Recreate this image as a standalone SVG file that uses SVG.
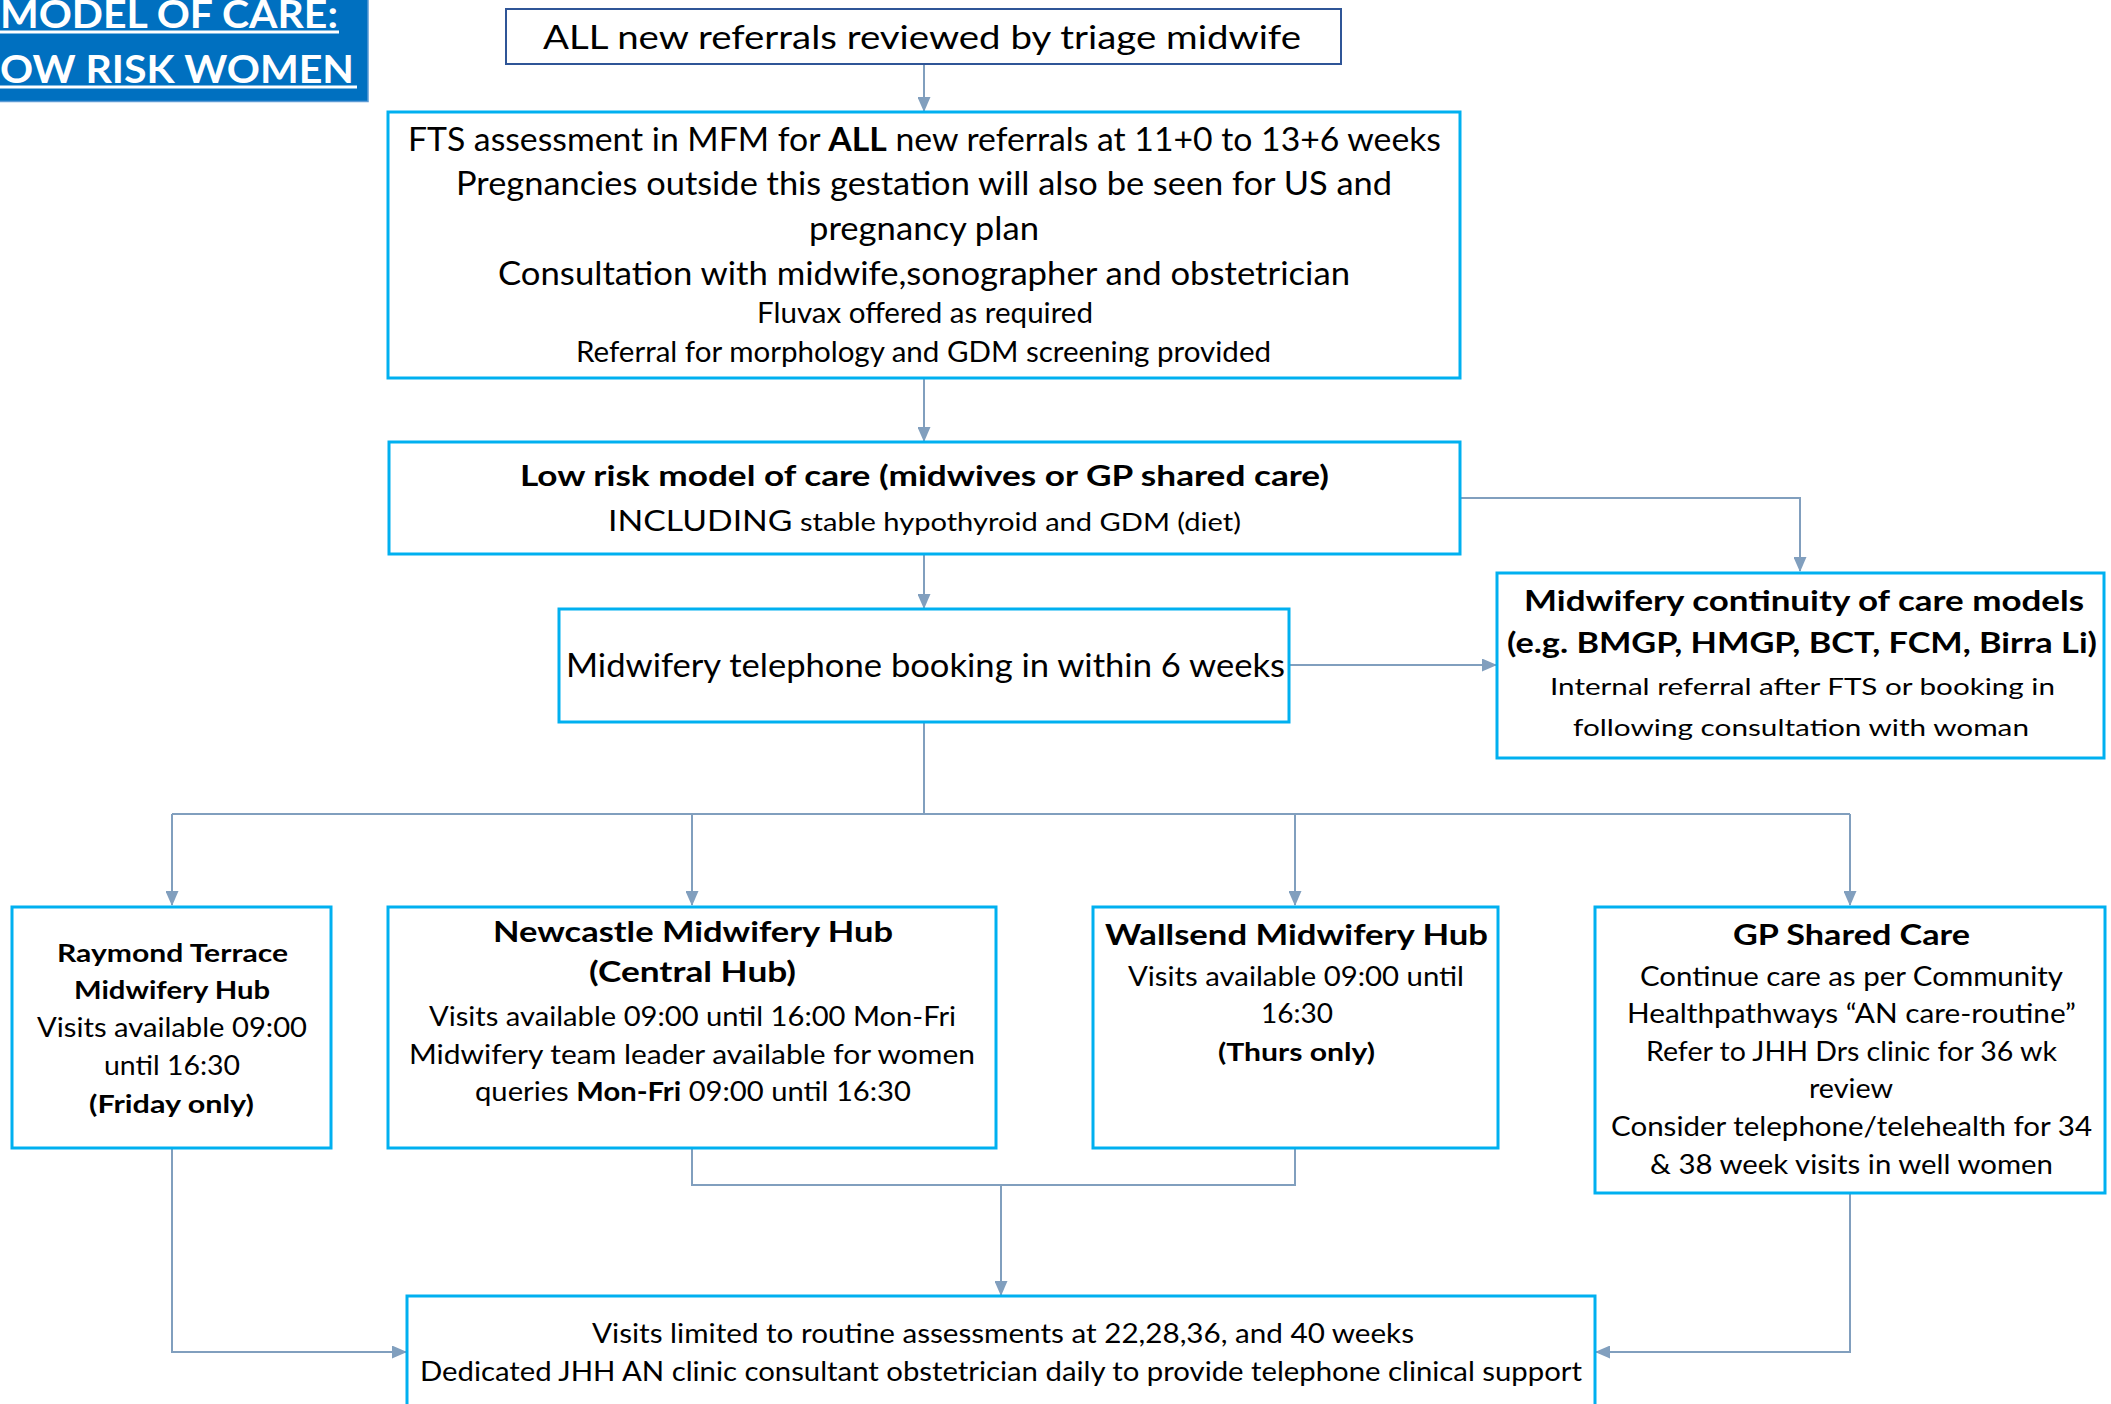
<svg xmlns="http://www.w3.org/2000/svg" width="2111" height="1404" viewBox="0 0 2111 1404">
<style>
text{font-family:Lato,"Open Sans","Liberation Sans",sans-serif;fill:#000;text-anchor:middle}
.b{font-weight:bold}
.box{fill:#fff;stroke:#00B0F0;stroke-width:3}
.tri{fill:#fff;stroke:#2F5597;stroke-width:2}
.con{fill:none;stroke:#819FBE;stroke-width:2}
.title{fill:#fff;font-weight:bold;font-size:39px;text-anchor:start}
</style>
<defs>
<marker id="ah" markerUnits="userSpaceOnUse" markerWidth="15" markerHeight="13" refX="14" refY="6.5" orient="auto">
<path d="M0,0 L15,6.5 L0,13 z" fill="#819FBE"/>
</marker>
</defs>
<rect width="2111" height="1404" fill="#fff"/>

<g id="title">
<rect x="-2" y="-2" width="370" height="103.5" fill="#0070C0" stroke="#5B9BD5" stroke-width="1.5"/>
<text class="title" x="0" y="27.5" font-size="38" textLength="338" lengthAdjust="spacingAndGlyphs">MODEL OF CARE:</text>
<rect x="0" y="30.5" width="339" height="3" fill="#fff"/>
<text class="title" x="0" y="82.5" textLength="354" lengthAdjust="spacingAndGlyphs">OW RISK WOMEN</text>
<rect x="0" y="85.5" width="357" height="3" fill="#fff"/>
</g>

<g id="connectors">
<path class="con" d="M924,64 V111" marker-end="url(#ah)"/>
<path class="con" d="M924,378 V441" marker-end="url(#ah)"/>
<path class="con" d="M924,554 V608" marker-end="url(#ah)"/>
<path class="con" d="M1460,498 H1800 V571" marker-end="url(#ah)"/>
<path class="con" d="M1289,665 H1496" marker-end="url(#ah)"/>
<path class="con" d="M924,722 V814"/>
<path class="con" d="M172,814 H1850"/>
<path class="con" d="M172,814 V905" marker-end="url(#ah)"/>
<path class="con" d="M692,814 V905" marker-end="url(#ah)"/>
<path class="con" d="M1295,814 V905" marker-end="url(#ah)"/>
<path class="con" d="M1850,814 V905" marker-end="url(#ah)"/>
<path class="con" d="M172,1148 V1352 H406" marker-end="url(#ah)"/>
<path class="con" d="M692,1148 V1185 H1295 V1148"/>
<path class="con" d="M1001,1185 V1295" marker-end="url(#ah)"/>
<path class="con" d="M1850,1193 V1352 H1596" marker-end="url(#ah)"/>
</g>

<g id="triage">
<rect class="tri" x="506" y="9" width="835" height="55"/>
<text x="922" y="49" font-size="33" textLength="758" lengthAdjust="spacingAndGlyphs">ALL new referrals reviewed by triage midwife</text>
</g>

<g id="fts">
<rect class="box" x="388" y="112" width="1072" height="266"/>
<text x="924.5" y="151" font-size="32" textLength="1033" lengthAdjust="spacingAndGlyphs">FTS assessment in MFM for <tspan class="b">ALL</tspan> new referrals at 11+0 to 13+6 weeks</text>
<text x="924" y="195" font-size="32" textLength="936" lengthAdjust="spacingAndGlyphs">Pregnancies outside this gestation will also be seen for US and</text>
<text x="924" y="240" font-size="32" textLength="230" lengthAdjust="spacingAndGlyphs">pregnancy plan</text>
<text x="924" y="285" font-size="32" textLength="852" lengthAdjust="spacingAndGlyphs">Consultation with midwife,sonographer and obstetrician</text>
<text x="925" y="323" font-size="28" textLength="336" lengthAdjust="spacingAndGlyphs">Fluvax offered as required</text>
<text x="923.5" y="362" font-size="28" textLength="695" lengthAdjust="spacingAndGlyphs">Referral for morphology and GDM screening provided</text>
</g>

<g id="lowrisk">
<rect class="box" x="389" y="442" width="1071" height="112"/>
<text class="b" x="924.5" y="486" font-size="28" textLength="809" lengthAdjust="spacingAndGlyphs">Low risk model of care (midwives or GP shared care)</text>
<text x="924.5" y="531" font-size="25" textLength="633" lengthAdjust="spacingAndGlyphs"><tspan font-size="29">INCLUDING</tspan> stable hypothyroid and GDM (diet)</text>
</g>

<g id="telephone">
<rect class="box" x="559" y="609" width="730" height="113"/>
<text x="925.5" y="677" font-size="32" textLength="719" lengthAdjust="spacingAndGlyphs">Midwifery telephone booking in within 6 weeks</text>
</g>

<g id="continuity">
<rect class="box" x="1497" y="573" width="607" height="185"/>
<text class="b" x="1804" y="610.5" font-size="29" textLength="560" lengthAdjust="spacingAndGlyphs">Midwifery continuity of care models</text>
<text class="b" x="1802" y="653" font-size="29" textLength="590" lengthAdjust="spacingAndGlyphs">(e.g. BMGP, HMGP, BCT, FCM, Birra Li)</text>
<text x="1802.5" y="695" font-size="24" textLength="505" lengthAdjust="spacingAndGlyphs">Internal referral after FTS or booking in</text>
<text x="1801" y="735.5" font-size="24" textLength="456" lengthAdjust="spacingAndGlyphs">following consultation with woman</text>
</g>

<g id="raymond">
<rect class="box" x="12" y="907" width="319" height="241"/>
<text class="b" x="172.5" y="962" font-size="25" textLength="231" lengthAdjust="spacingAndGlyphs">Raymond Terrace</text>
<text class="b" x="172" y="999" font-size="25" textLength="196" lengthAdjust="spacingAndGlyphs">Midwifery Hub</text>
<text x="172" y="1037" font-size="26" textLength="270" lengthAdjust="spacingAndGlyphs">Visits available 09:00</text>
<text x="172" y="1075" font-size="26" textLength="136" lengthAdjust="spacingAndGlyphs">until 16:30</text>
<text class="b" x="171.5" y="1113" font-size="25" textLength="165" lengthAdjust="spacingAndGlyphs">(Friday only)</text>
</g>

<g id="newcastle">
<rect class="box" x="388" y="907" width="608" height="241"/>
<text class="b" x="693" y="941.5" font-size="28" textLength="400" lengthAdjust="spacingAndGlyphs">Newcastle Midwifery Hub</text>
<text class="b" x="692.5" y="981.5" font-size="28" textLength="207" lengthAdjust="spacingAndGlyphs">(Central Hub)</text>
<text x="692.5" y="1026" font-size="26" textLength="527" lengthAdjust="spacingAndGlyphs">Visits available 09:00 until 16:00 Mon-Fri</text>
<text x="692" y="1064" font-size="26" textLength="566" lengthAdjust="spacingAndGlyphs">Midwifery team leader available for women</text>
<text x="693" y="1101" font-size="26" textLength="436" lengthAdjust="spacingAndGlyphs">queries <tspan class="b">Mon-Fri</tspan> 09:00 until 16:30</text>
</g>

<g id="wallsend">
<rect class="box" x="1093" y="907" width="405" height="241"/>
<text class="b" x="1296.5" y="945" font-size="28" textLength="383" lengthAdjust="spacingAndGlyphs">Wallsend Midwifery Hub</text>
<text x="1296" y="986" font-size="26" textLength="336" lengthAdjust="spacingAndGlyphs">Visits available 09:00 until</text>
<text x="1297" y="1023" font-size="26" textLength="72" lengthAdjust="spacingAndGlyphs">16:30</text>
<text class="b" x="1296.5" y="1061" font-size="25" textLength="157" lengthAdjust="spacingAndGlyphs">(Thurs only)</text>
</g>

<g id="gp">
<rect class="box" x="1595" y="907" width="510" height="286"/>
<text class="b" x="1851.5" y="945" font-size="28" textLength="237" lengthAdjust="spacingAndGlyphs">GP Shared Care</text>
<text x="1851.5" y="986" font-size="27" textLength="423" lengthAdjust="spacingAndGlyphs">Continue care as per Community</text>
<text x="1851.5" y="1022.5" font-size="27" textLength="449" lengthAdjust="spacingAndGlyphs">Healthpathways “AN care-routine”</text>
<text x="1851.5" y="1060.5" font-size="27" textLength="411" lengthAdjust="spacingAndGlyphs">Refer to JHH Drs clinic for 36 wk</text>
<text x="1851" y="1098" font-size="27" textLength="84" lengthAdjust="spacingAndGlyphs">review</text>
<text x="1851.5" y="1136" font-size="27" textLength="481" lengthAdjust="spacingAndGlyphs">Consider telephone/telehealth for 34</text>
<text x="1851.5" y="1174" font-size="27" textLength="403" lengthAdjust="spacingAndGlyphs">&amp; 38 week visits in well women</text>
</g>

<g id="bottom">
<rect class="box" x="407" y="1296" width="1188" height="130"/>
<text x="1003" y="1343" font-size="26" textLength="822" lengthAdjust="spacingAndGlyphs">Visits limited to routine assessments at 22,28,36, and 40 weeks</text>
<text x="1001" y="1381" font-size="26" textLength="1162" lengthAdjust="spacingAndGlyphs">Dedicated JHH AN clinic consultant obstetrician daily to provide telephone clinical support</text>
</g>
</svg>
